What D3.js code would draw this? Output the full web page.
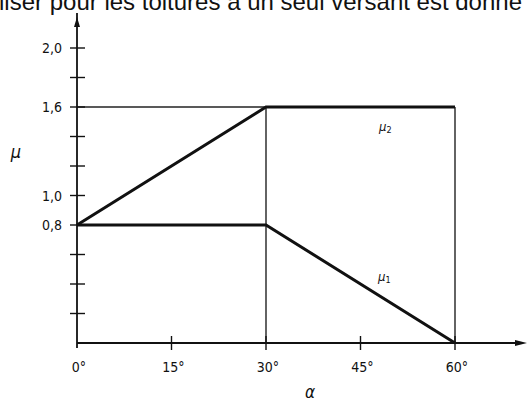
<!DOCTYPE html>
<html>
<head>
<meta charset="utf-8">
<script src="https://cdn.jsdelivr.net/npm/d3@7"></script>
<style>
  html, body { margin: 0; padding: 0; background: #fff; }
  svg { display: block; }
</style>
</head>
<body>
<div id="chart"></div>
<script>
// Roof slope (degrees) and snow load shape coefficients
const angles = [0, 30, 60];
const mu1 = [0.8, 0.8, 0];
const mu2 = [0.8, 1.6, 1.6];

const xTicks = [0, 15, 30, 45, 60];
const xTickLabels = ['0°', '15°', '30°', '45°', '60°'];
const yTicks = [0, 0.2, 0.4, 0.6, 0.8, 1.0, 1.2, 1.4, 1.6, 1.8, 2.0];
const yLabelled = [0.8, 1.0, 1.6, 2.0];
const yLabels = ['0,8', '1,0', '1,6', '2,0'];

const width = 528;
const height = 403;

const svg = d3.select('#chart')
  .append('svg')
  .attr('width', width)
  .attr('height', height);

const x = d3.scaleLinear().domain([0, 60]).range([77, 455]);
const y = d3.scaleLinear().domain([0, 2]).range([343, 48]);

const labelFont = '"DejaVu Sans Condensed", "DejaVu Sans", sans-serif';

// Cropped sentence above the figure (cut by the top and left edges)
svg.append('text')
  .attr('x', 522)
  .attr('y', 10)
  .attr('text-anchor', 'end')
  .attr('font-family', '"Liberation Sans", Arial, sans-serif')
  .attr('font-size', '24px')
  .attr('fill', '#111')
  .text('utiliser pour les toitures à un seul versant est donné');

// Thin construction lines
const thin = svg.append('g')
  .attr('stroke', '#222')
  .attr('stroke-width', 1.4)
  .attr('fill', 'none');

thin.append('line')
  .attr('x1', x(0)).attr('x2', x(60))
  .attr('y1', y(1.6)).attr('y2', y(1.6));

[30, 60].forEach(a => {
  thin.append('line')
    .attr('x1', x(a)).attr('x2', x(a))
    .attr('y1', y(0)).attr('y2', y(1.6));
});

// Axes
const axes = svg.append('g')
  .attr('stroke', '#111')
  .attr('stroke-width', 1.8)
  .attr('fill', 'none');

axes.append('line')
  .attr('x1', x(0)).attr('x2', x(0))
  .attr('y1', 348).attr('y2', 13);

axes.append('line')
  .attr('x1', x(0)).attr('x2', 520)
  .attr('y1', y(0)).attr('y2', y(0));

// Arrowheads
svg.append('path')
  .attr('d', `M${x(0)},17 L${x(0) - 3},27 L${x(0) + 3},27 Z`)
  .attr('fill', '#111');

svg.append('path')
  .attr('d', `M527,${y(0)} L515,${y(0) - 3} L515,${y(0) + 3} Z`)
  .attr('fill', '#111');

// Y ticks (crossing the axis)
axes.selectAll('.ytick')
  .data(yTicks.filter(d => d > 0))
  .enter()
  .append('line')
  .attr('x1', x(0) - 7).attr('x2', x(0) + 8)
  .attr('y1', d => y(d)).attr('y2', d => y(d))
  .attr('stroke-width', 1.4);

// X ticks
axes.selectAll('.xtick')
  .data(xTicks.filter(d => d > 0))
  .enter()
  .append('line')
  .attr('x1', d => x(d)).attr('x2', d => x(d))
  .attr('y1', y(0) - 7).attr('y2', y(0) + 7)
  .attr('stroke-width', 1.4);

// Y tick labels
svg.selectAll('.ylabel')
  .data(yLabelled)
  .enter()
  .append('text')
  .attr('x', 62)
  .attr('y', d => y(d))
  .attr('dy', '0.36em')
  .attr('text-anchor', 'end')
  .attr('font-family', labelFont)
  .attr('font-size', '14px')
  .attr('fill', '#111')
  .text((d, i) => yLabels[i]);

// X tick labels
svg.selectAll('.xlabel')
  .data(xTicks)
  .enter()
  .append('text')
  .attr('x', d => x(d) + 2)
  .attr('y', 372)
  .attr('text-anchor', 'middle')
  .attr('font-family', labelFont)
  .attr('font-size', '14px')
  .attr('fill', '#111')
  .text((d, i) => xTickLabels[i]);

// Axis titles
svg.append('text')
  .attr('x', 16)
  .attr('y', 158)
  .attr('text-anchor', 'middle')
  .attr('font-family', labelFont)
  .attr('font-style', 'italic')
  .attr('font-size', '18px')
  .attr('fill', '#111')
  .text('μ');

svg.append('text')
  .attr('x', 310)
  .attr('y', 398)
  .attr('text-anchor', 'middle')
  .attr('font-family', labelFont)
  .attr('font-style', 'italic')
  .attr('font-size', '17px')
  .attr('fill', '#111')
  .text('α');

// Coefficient curves
const line = d3.line()
  .x(d => x(d[0]))
  .y(d => y(d[1]));

[mu1, mu2].forEach(series => {
  svg.append('path')
    .datum(angles.map((a, i) => [a, series[i]]))
    .attr('d', line)
    .attr('fill', 'none')
    .attr('stroke', '#111')
    .attr('stroke-width', 3)
    .attr('stroke-linejoin', 'miter');
});

// Curve labels
function curveLabel(cx, cy, sub) {
  const t = svg.append('text')
    .attr('x', cx)
    .attr('y', cy)
    .attr('font-family', labelFont)
    .attr('font-style', 'italic')
    .attr('font-size', '13px')
    .attr('fill', '#111');
  t.append('tspan').text('μ');
  t.append('tspan')
    .attr('font-size', '9px')
    .attr('font-style', 'normal')
    .attr('dy', 2)
    .text(sub);
}

curveLabel(379, 131, '2');
curveLabel(378, 281, '1');
</script>
</body>
</html>
